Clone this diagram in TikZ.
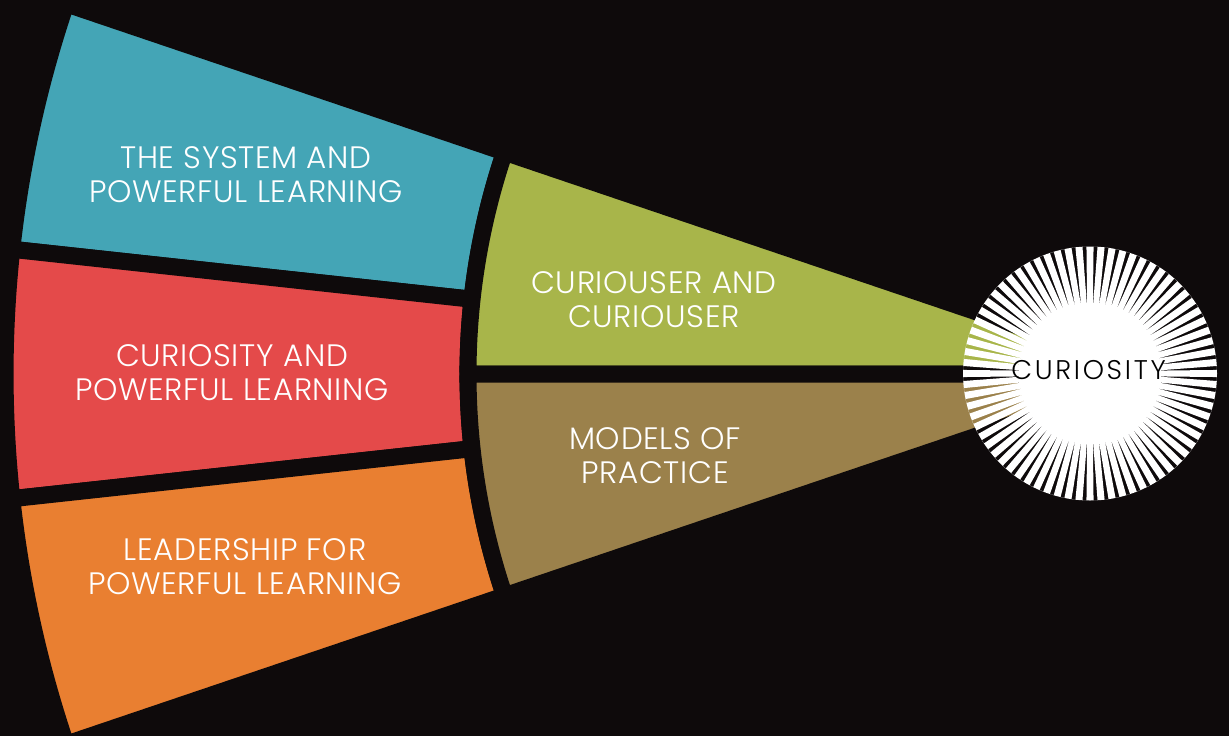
\documentclass[tikz,border=0pt]{standalone}
\usepackage{fontspec}
\usetikzlibrary{calc}
\newfontfamily\futura[LetterSpace=2.2]{Poppins Light}
\newfontfamily\futuraw[LetterSpace=10]{Poppins Light}
\definecolor{bgc}{HTML}{0E0A0B}
\definecolor{blueC}{HTML}{44A5B6}
\definecolor{redC}{HTML}{E44A4A}
\definecolor{orangeC}{HTML}{E97F31}
\definecolor{greenC}{HTML}{A8B54A}
\definecolor{brownC}{HTML}{9B814B}
\begin{document}
\begin{tikzpicture}[x=1bp,y=-1bp,
  sector/.style={line width=17bp, draw=bgc, line join=miter},
  lbl/.style={text=white, align=center, inner sep=0pt,
    font=\futura\fontsize{31bp}{34bp}\selectfont},
  sunlbl/.style={text=black, inner sep=0pt,
    font=\futuraw\fontsize{27bp}{30bp}\selectfont}]
\fill[bgc] (0,0) rectangle (1229,736);
\useasboundingbox (0,0) rectangle (1229,736);
\coordinate (C) at (1160,374);
\coordinate (S) at (1090,373.5);
% left ring
\filldraw[sector, fill=blueC] ($(C)+(186.2:692)$) arc[start angle=186.2, end angle=198.7, radius=692]
  -- ($(C)+(198.7:1155)$) arc[start angle=198.7, end angle=186.2, radius=1155] -- cycle;
\filldraw[sector, fill=redC] ($(C)+(173.8:692)$) arc[start angle=173.8, end angle=186.2, radius=692]
  -- ($(C)+(186.2:1155)$) arc[start angle=186.2, end angle=173.8, radius=1155] -- cycle;
\filldraw[sector, fill=orangeC] ($(C)+(161.3:692)$) arc[start angle=161.3, end angle=173.8, radius=692]
  -- ($(C)+(173.8:1155)$) arc[start angle=173.8, end angle=161.3, radius=1155] -- cycle;
% inner wedges
\filldraw[sector, fill=greenC] (C) -- ($(C)+(180:692)$) arc[start angle=180, end angle=198.7, radius=692] -- cycle;
\filldraw[sector, fill=brownC] (C) -- ($(C)+(161.3:692)$) arc[start angle=161.3, end angle=180, radius=692] -- cycle;
% sunburst
\fill[white, even odd rule] (S) circle[radius=127]
  \foreach \k in {0,...,71}{
    ($(S)+(\k*5+2.5:66)$) -- ($(S)+(\k*5+1.6:127)$) -- ($(S)+(\k*5+3.4:127)$) -- cycle
  };
% labels
\node[lbl] (sys) at (246,174.5) {THE SYSTEM AND\\POWERFUL LEARNING};
\node[lbl] (cpl) at (232,372.5) {CURIOSITY AND\\POWERFUL LEARNING};
\node[lbl] (lpl) at (245,567) {LEADERSHIP FOR\\POWERFUL LEARNING};
\node[lbl] (cac) at (654,300) {CURIOUSER AND\\CURIOUSER};
\node[lbl] (mop) at (655,456) {MODELS OF\\PRACTICE};
\node[sunlbl] (cur) at (1088.5,370.5) {CURIOSITY};
\end{tikzpicture}
\end{document}
